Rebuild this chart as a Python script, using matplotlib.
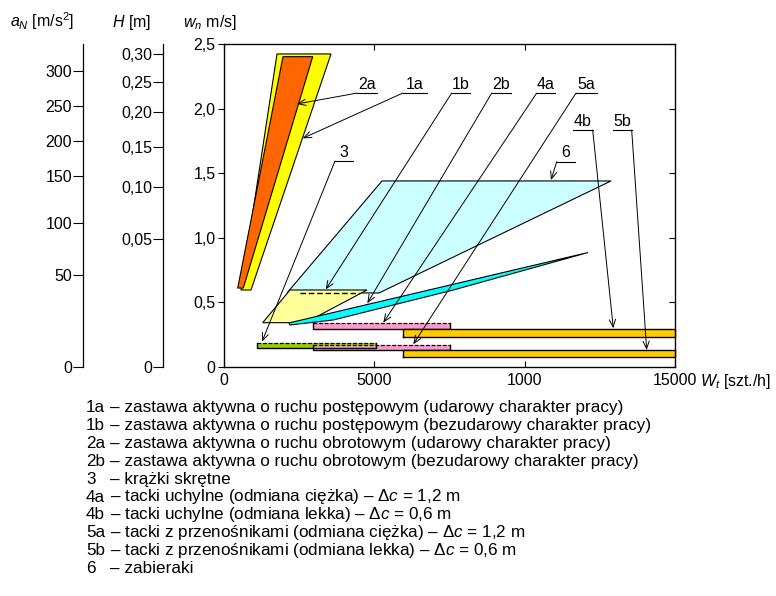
import matplotlib.pyplot as plt
from matplotlib.patches import Polygon

plt.rcParams['font.family'] = ['Liberation Sans', 'DejaVu Sans']
plt.rcParams['mathtext.fontset'] = 'custom'
plt.rcParams['mathtext.rm'] = 'Liberation Sans'
plt.rcParams['mathtext.it'] = 'Liberation Sans:italic'

# ==========================================
# dane (x: W_t [szt./h], y: w_n [m/s])
# ==========================================
w_ticks = [0, 0.5, 1.0, 1.5, 2.0, 2.5]
w_tick_labels = ['0', '0,5', '1,0', '1,5', '2,0', '2,5']
wt_ticks = [0, 5000, 10000, 15000]
wt_tick_labels = ['0', '5000', '1000', '15000']   # tak jak w oryginale

# skale pomocnicze (pozycja w jednostkach w_n)
an_ticks = [0, 0.712, 1.117, 1.478, 1.749, 2.020, 2.291]
an_labels = ['0', '50', '100', '150', '200', '250', '300']
h_ticks = [0, 0.991, 1.390, 1.703, 1.974, 2.206, 2.423]
h_labels = ['0', '0,05', '0,10', '0,15', '0,20', '0,25', '0,30']

# obszary
area_6_x = [2095, 5255, 12872, 5155]
area_6_y = [0.573, 1.440, 1.440, 0.573]
area_1b_x = [1287, 2195, 4756, 2710]
area_1b_y = [0.343, 0.596, 0.596, 0.343]
line_1b_x = [2528, 4523]
line_1b_y = [0.571, 0.571]
area_2b_x = [2162, 12107, 7627, 3635, 2195]
area_2b_y = [0.341, 0.886, 0.596, 0.364, 0.325]
area_1a_x = [1763, 3559, 898, 565]
area_1a_y = [2.423, 2.423, 0.596, 0.596]
area_2a_x = [1962, 2950, 642, 456]
area_2a_y = [2.402, 2.402, 0.611, 0.611]

# paski: (x0, x1, y0, y1)
bar_3 = (1108, 5055, 0.149, 0.188)
bar_4a = (2960, 7517, 0.294, 0.337)
bar_5a = (2960, 7517, 0.128, 0.174)
bar_4b = (5963, 15000, 0.235, 0.294)
bar_5b = (5963, 15000, 0.081, 0.132)

# odnośniki: etykieta, podkreślenie (x0, x1, y), grot (x, y), strona startu
callout_labels = ['2a', '1a', '3', '1b', '2b', '4a', '5a', '4b', '5b', '6']
callout_under = [(4424, 5079, 2.12), (5944, 6742, 2.12), (3692, 4301, 1.594),
                 (7573, 8182, 2.12), (8904, 9536, 2.12), (10400, 11010, 2.12),
                 (11708, 12396, 2.12), (11618, 12263, 1.834), (12948, 13560, 1.834),
                 (11066, 11675, 1.589)]
callout_tips = [(2428, 2.036), (2618, 1.770), (1264, 0.196), (3383, 0.600),
                (4766, 0.493), (5298, 0.343), (6296, 0.176), (12948, 0.300),
                (14059, 0.132), (10876, 1.447)]
callout_side = ['l', 'l', 'l', 'l', 'l', 'l', 'l', 'r', 'r', 'l']

legend_keys = ['1a', '1b', '2a', '2b', '3', '4a', '4b', '5a', '5b', '6']
legend_texts = [
    'zastawa aktywna o ruchu postępowym (udarowy charakter pracy)',
    'zastawa aktywna o ruchu postępowym (bezudarowy charakter pracy)',
    'zastawa aktywna o ruchu obrotowym (udarowy charakter pracy)',
    'zastawa aktywna o ruchu obrotowym (bezudarowy charakter pracy)',
    'krążki skrętne',
    r'tacki uchylne (odmiana ciężka) – $\mathit{Δc}$ = 1,2 m',
    r'tacki uchylne (odmiana lekka) – $\mathit{Δc}$ = 0,6 m',
    r'tacki z przenośnikami (odmiana ciężka) – $\mathit{Δc}$ = 1,2 m',
    r'tacki z przenośnikami (odmiana lekka) – $\mathit{Δc}$ = 0,6 m',
    'zabieraki',
]

# ==========================================
# rysunek
# ==========================================
W, H = 776, 596
fig = plt.figure(figsize=(W / 100, H / 100), dpi=100)


def fx(px):
    return px / W


def fy(py):
    return 1 - py / H


ax_l, ax_r, ax_t, ax_b = 224, 675, 44, 367
rect_h = (ax_b - ax_t) / H
ax = fig.add_axes([fx(ax_l), fy(ax_b), (ax_r - ax_l) / W, rect_h])
ax.set_xlim(0, 15000)
ax.set_ylim(0, 2.5)
for s in ax.spines.values():
    s.set_linewidth(0.9)

TICK_FS = 11.5
ax.set_xticks(wt_ticks)
ax.set_xticklabels(wt_tick_labels, fontsize=TICK_FS)
ax.set_yticks(w_ticks)
ax.set_yticklabels(w_tick_labels, fontsize=TICK_FS)
ax.tick_params(axis='x', direction='in', top=True, length=4, width=0.8, pad=4)
ax.tick_params(axis='y', direction='out', length=4, width=0.8, pad=2)
axr = ax.twinx()
axr.set_ylim(0, 2.5)
axr.set_yticks(w_ticks)
axr.tick_params(axis='y', direction='in', length=4, width=0.8, labelright=False)

# pomocnicze osie a_N i H
for xpos, ticks, labels in [(83, an_ticks, an_labels), (163, h_ticks, h_labels)]:
    a = fig.add_axes([fx(xpos), fy(ax_b), 0.0001, rect_h])
    a.set_ylim(0, 2.5)
    a.set_xticks([])
    for side in ['right', 'top', 'bottom']:
        a.spines[side].set_visible(False)
    a.spines['left'].set_linewidth(0.9)
    a.set_yticks(ticks)
    a.set_yticklabels(labels, fontsize=TICK_FS)
    a.tick_params(axis='y', direction='out', length=7, width=0.8, pad=1)
    a.patch.set_visible(False)


def poly(xs, ys, color, z):
    p = Polygon(list(zip(xs, ys)), closed=True, facecolor=color,
                edgecolor='black', linewidth=0.8, zorder=z)
    ax.add_patch(p)


def bar(b, color, z, dashed_top=False):
    x0, x1, y0, y1 = b
    ax.fill([x0, x1, x1, x0], [y0, y0, y1, y1], color=color, zorder=z,
            linewidth=0, clip_on=False)
    if dashed_top:
        ax.plot([x0, x0, x1, x1], [y1, y0, y0, y1], color='black', lw=1.0,
                zorder=z + 0.1, clip_on=False)
        ax.plot([x0, x1], [y1, y1], color='black', lw=0.9, ls=(0, (3, 1.5)),
                zorder=z + 0.1, clip_on=False)
    else:
        ax.plot([x0, x1, x1, x0, x0], [y0, y0, y1, y1, y0], color='black',
                lw=1.0, zorder=z + 0.1, clip_on=False)


poly(area_6_x, area_6_y, '#CCFFFF', 2)
poly(area_1b_x, area_1b_y, '#FFFF99', 3)
ax.plot(line_1b_x, line_1b_y, color='black', lw=1.0, ls=(0, (4, 2)), zorder=3.5)
poly(area_2b_x, area_2b_y, '#00FFFF', 4)
poly(area_1a_x, area_1a_y, '#FFFF00', 4)
poly(area_2a_x, area_2a_y, '#FF6600', 5)

bar(bar_4a, '#FF99CC', 5, dashed_top=True)
bar(bar_4b, '#FFCC00', 6)
bar(bar_3, '#99CC00', 5, dashed_top=True)
bar(bar_5a, '#FF99CC', 5, dashed_top=True)
bar(bar_5b, '#FFCC00', 6)

for lab, (u0, u1, uy), tip, side in zip(callout_labels, callout_under,
                                        callout_tips, callout_side):
    ax.plot([u0, u1], [uy, uy], color='black', lw=0.8, zorder=10)
    ax.text((u0 + u1) / 2, uy + 0.01, lab, ha='center', va='bottom',
            fontsize=TICK_FS, zorder=10)
    start = (u0, uy) if side == 'l' else (u1, uy)
    ax.annotate('', xy=tip, xytext=start, zorder=10,
                arrowprops=dict(arrowstyle='->,head_length=0.6,head_width=0.25',
                                lw=0.7, color='black', shrinkA=0, shrinkB=0,
                                mutation_scale=9))

# opisy osi
fig.text(fx(10), fy(27), r'$a_N$ [m/s$^2$]', fontsize=TICK_FS, va='baseline')
fig.text(fx(112), fy(27), r'$H$ [m]', fontsize=TICK_FS, va='baseline')
fig.text(fx(183), fy(27), r'$w_n$ m/s]', fontsize=TICK_FS, va='baseline')
fig.text(fx(700), fy(386), r'$W_t$ [szt./h]', fontsize=TICK_FS, va='baseline')

# legenda
LEG_FS = 12.3
for i, (k, t) in enumerate(zip(legend_keys, legend_texts)):
    y = 412 + i * 17.9
    fig.text(fx(86), fy(y), k, fontsize=LEG_FS, va='baseline')
    fig.text(fx(110), fy(y), '– ' + t, fontsize=LEG_FS, va='baseline')

fig.savefig('out.png', dpi=100)
